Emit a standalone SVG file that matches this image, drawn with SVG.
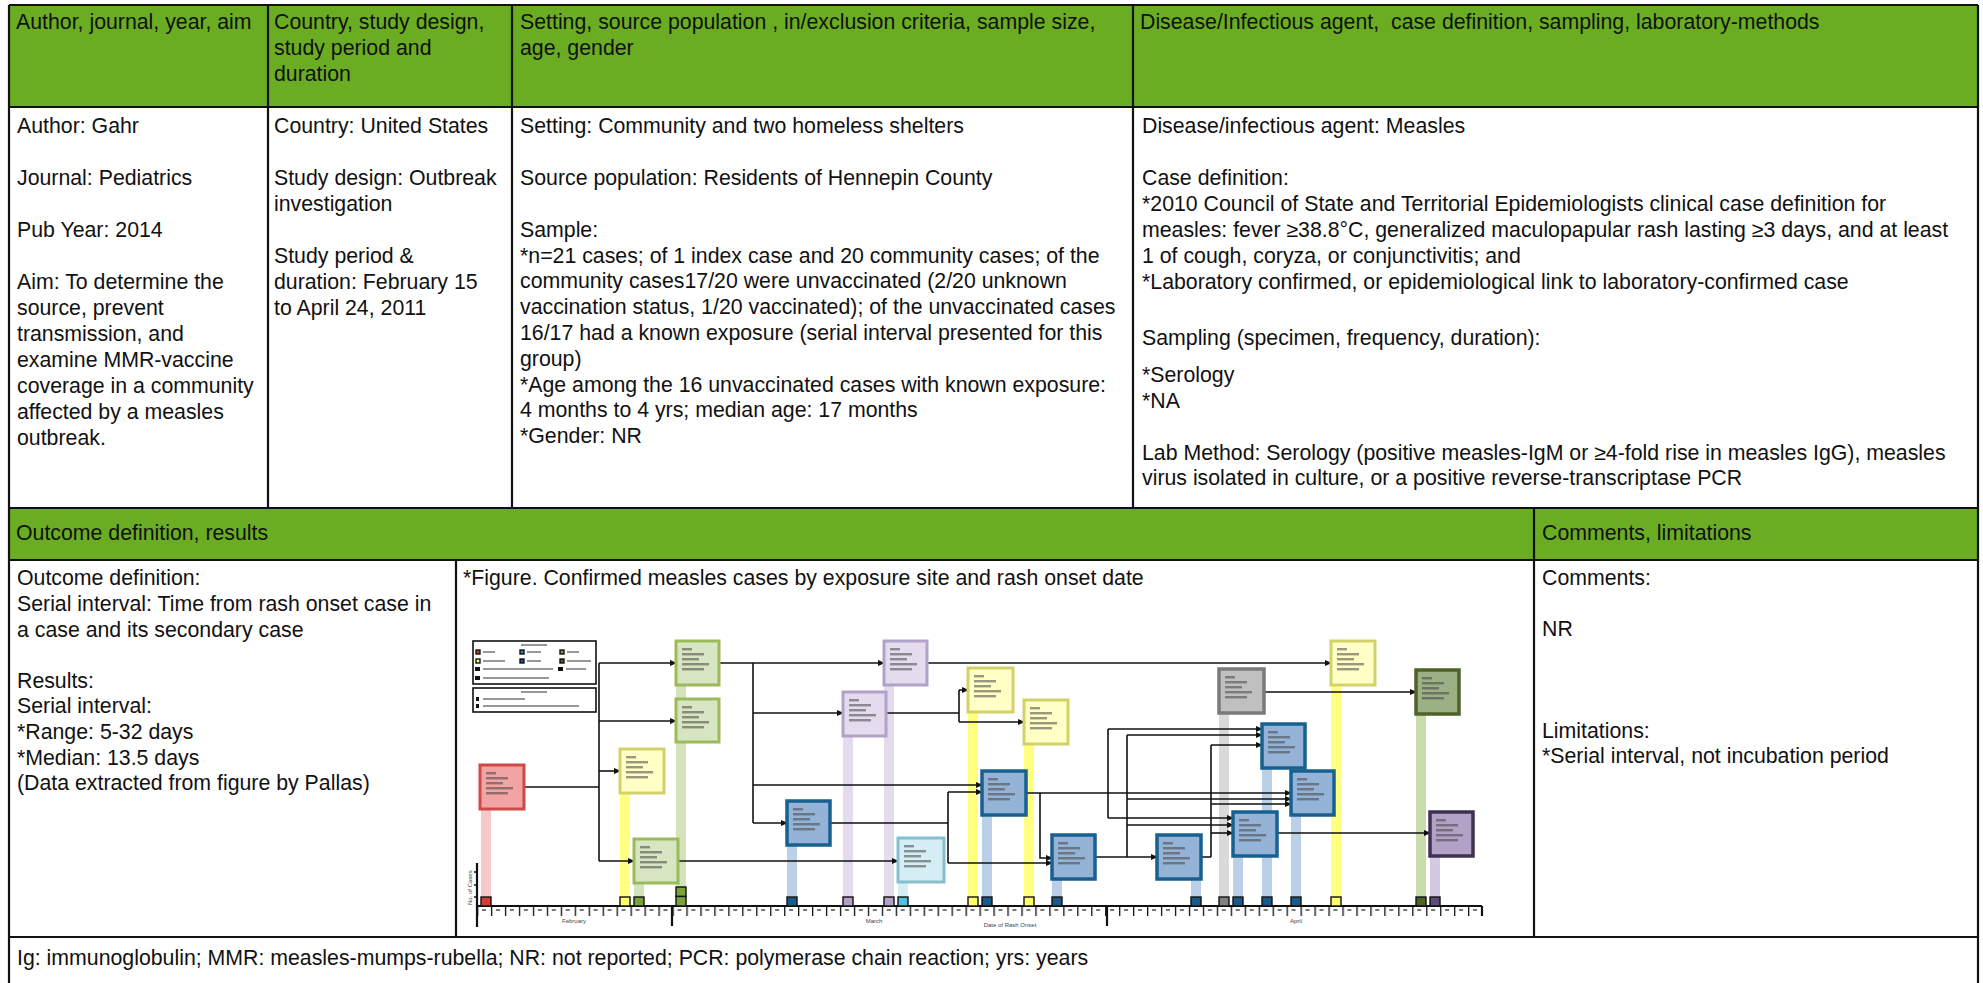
<svg xmlns="http://www.w3.org/2000/svg" xmlns:xlink="http://www.w3.org/1999/xlink" width="1983" height="983" viewBox="0 0 1983 983">
<style>
text{font-family:"Liberation Sans",Arial,sans-serif;font-size:21.3px;fill:#111}
.g{fill:#6aad22}
.tl{stroke:#111;stroke-width:2.2;fill:none}
.cn{stroke:#111;stroke-width:1.6;fill:none}
.ca{stroke:#111;stroke-width:1.6;fill:none;marker-end:url(#ah)}
.sm{fill:#444;opacity:.55}
.sq{stroke:#111;stroke-width:1.4}
.tiny{font-size:6px;fill:#444}
.bGreen{fill:#d8e5c2;stroke:#9bbb59;stroke-width:3}
.bYellow{fill:#ffffc6;stroke:#d3d26a;stroke-width:3}
.bPurple{fill:#e4dcee;stroke:#b3a2c7;stroke-width:3}
.bBlue{fill:#95b3d7;stroke:#17608f;stroke-width:3.5}
.bLBlue{fill:#d5edf4;stroke:#86bfcf;stroke-width:3}
.bRed{fill:#f2a3a3;stroke:#cf4a46;stroke-width:3}
.bGrey{fill:#c0c0c0;stroke:#7a7a7a;stroke-width:3.5}
.bDGreen{fill:#9cb085;stroke:#4f6228;stroke-width:3.5}
.bDPurple{fill:#b3a2c7;stroke:#3f3151;stroke-width:3.5}
</style>
<defs>
<marker id="ah" markerWidth="7" markerHeight="6" refX="6" refY="3" orient="auto" markerUnits="userSpaceOnUse">
<path d="M0,0 L7,3 L0,6 z" fill="#111"/>
</marker>
<symbol id="txt" width="44" height="44" viewBox="0 0 44 44">
<rect class="sm" x="6" y="7" width="10" height="2.4"/>
<rect class="sm" x="6" y="12" width="22" height="2.4"/>
<rect class="sm" x="6" y="17" width="17" height="2.4"/>
<rect class="sm" x="6" y="22" width="27" height="2.4"/>
<rect class="sm" x="6" y="27" width="22" height="2.4"/>
</symbol>
<pattern id="ticks" x="477" y="906" width="13.958" height="12" patternUnits="userSpaceOnUse">
<rect x="0" y="0" width="1.3" height="10" fill="#111"/>
<rect x="5" y="3" width="4" height="2" fill="#777"/>
</pattern>
</defs>

<g id="table-bg">
<rect class="g" x="9" y="5" width="1969" height="102"/>
<rect class="g" x="9" y="508" width="1969" height="52"/>
</g>

<g id="table-lines">
<path class="tl" d="M9,5 H1978 M9,107 H1978 M9,508 H1978 M9,560 H1978 M9,937 H1978"/>
<path class="tl" d="M9,5 V983 M1978,5 V983 M268,5 V508 M512,5 V508 M1133,5 V508 M456,560 V937 M1534,508 V937"/>
</g>

<g id="header-author"><text x="16" y="29">Author, journal, year, aim</text></g>
<g id="header-country"><text x="274" y="29">Country, study design,</text><text x="274" y="55">study period and</text><text x="274" y="81">duration</text></g>
<g id="header-setting"><text x="520" y="29">Setting, source population , in/exclusion criteria, sample size,</text><text x="520" y="55">age, gender</text></g>
<g id="header-disease"><text x="1140" y="29" xml:space="preserve">Disease/Infectious agent,  case definition, sampling, laboratory-methods</text></g>

<g id="cell-author">
<text x="17" y="133">Author: Gahr</text>
<text x="17" y="185">Journal: Pediatrics</text>
<text x="17" y="237">Pub Year: 2014</text>
<text x="17" y="289">Aim: To determine the</text>
<text x="17" y="315">source, prevent</text>
<text x="17" y="341">transmission, and</text>
<text x="17" y="367">examine MMR-vaccine</text>
<text x="17" y="393">coverage in a community</text>
<text x="17" y="419">affected by a measles</text>
<text x="17" y="445">outbreak.</text>
</g>
<g id="cell-country">
<text x="274" y="133">Country: United States</text>
<text x="274" y="185">Study design: Outbreak</text>
<text x="274" y="211">investigation</text>
<text x="274" y="263">Study period &amp;</text>
<text x="274" y="289">duration: February 15</text>
<text x="274" y="315">to April 24, 2011</text>
</g>
<g id="cell-setting">
<text x="520" y="133">Setting: Community and two homeless shelters</text>
<text x="520" y="185">Source population: Residents of Hennepin County</text>
<text x="520" y="237">Sample:</text>
<text x="520" y="263">*n=21 cases; of 1 index case and 20 community cases; of the</text>
<text x="520" y="288">community cases17/20 were unvaccinated (2/20 unknown</text>
<text x="520" y="314">vaccination status, 1/20 vaccinated); of the unvaccinated cases</text>
<text x="520" y="340">16/17 had a known exposure (serial interval presented for this</text>
<text x="520" y="366">group)</text>
<text x="520" y="392">*Age among the 16 unvaccinated cases with known exposure:</text>
<text x="520" y="417">4 months to 4 yrs; median age: 17 months</text>
<text x="520" y="443">*Gender: NR</text>
</g>
<g id="cell-disease">
<text x="1142" y="133">Disease/infectious agent: Measles</text>
<text x="1142" y="185">Case definition:</text>
<text x="1142" y="211">*2010 Council of State and Territorial Epidemiologists clinical case definition for</text>
<text x="1142" y="237">measles: fever ≥38.8°C, generalized maculopapular rash lasting ≥3 days, and at least</text>
<text x="1142" y="263">1 of cough, coryza, or conjunctivitis; and</text>
<text x="1142" y="289">*Laboratory confirmed, or epidemiological link to laboratory-confirmed case</text>
<text x="1142" y="345">Sampling (specimen, frequency, duration):</text>
<text x="1142" y="382">*Serology</text>
<text x="1142" y="408">*NA</text>
<text x="1142" y="460">Lab Method: Serology (positive measles-IgM or ≥4-fold rise in measles IgG), measles</text>
<text x="1142" y="485">virus isolated in culture, or a positive reverse-transcriptase PCR</text>
</g>

<g id="header-outcome"><text x="16" y="540">Outcome definition, results</text></g>
<g id="header-comments"><text x="1542" y="540">Comments, limitations</text></g>

<g id="cell-outcome">
<text x="17" y="585">Outcome definition:</text>
<text x="17" y="611">Serial interval: Time from rash onset case in</text>
<text x="17" y="637">a case and its secondary case</text>
<text x="17" y="688">Results:</text>
<text x="17" y="713">Serial interval:</text>
<text x="17" y="739">*Range: 5-32 days</text>
<text x="17" y="765">*Median: 13.5 days</text>
<text x="17" y="790">(Data extracted from figure by Pallas)</text>
</g>
<g id="cell-comments">
<text x="1542" y="585">Comments:</text>
<text x="1542" y="636">NR</text>
<text x="1542" y="738">Limitations:</text>
<text x="1542" y="763">*Serial interval, not incubation period</text>
</g>
<g id="footer"><text x="17" y="965">Ig: immunoglobulin; MMR: measles-mumps-rubella; NR: not reported; PCR: polymerase chain reaction; yrs: years</text></g>

<g id="figure">
<text x="463" y="585">*Figure. Confirmed measles cases by exposure site and rash onset date</text>

<g id="legend">
<rect x="473" y="641" width="123" height="43" fill="#fff" stroke="#111" stroke-width="1.6"/>
<rect class="sm" x="521" y="644" width="26" height="2"/>
<rect class="sq" x="476" y="650" width="4" height="4" fill="#d63a32"/><rect class="sm" x="483" y="651" width="12" height="2"/>
<rect class="sq" x="520" y="650" width="4" height="4" fill="#31859c"/><rect class="sm" x="527" y="651" width="14" height="2"/>
<rect class="sq" x="560" y="650" width="4" height="4" fill="#77a33a"/><rect class="sm" x="567" y="651" width="12" height="2"/>
<rect class="sq" x="476" y="659" width="4" height="4" fill="#ffff66"/><rect class="sm" x="483" y="660" width="22" height="2"/>
<rect class="sq" x="520" y="659" width="4" height="4" fill="#1a5a8a"/><rect class="sm" x="527" y="660" width="14" height="2"/>
<rect class="sq" x="560" y="659" width="4" height="4" fill="#4f6228"/><rect class="sm" x="567" y="660" width="24" height="2"/>
<rect x="475" y="667" width="5" height="4" fill="#111"/><rect class="sm" x="483" y="668" width="70" height="2"/>
<rect x="558" y="667" width="5" height="4" fill="#111"/><rect class="sm" x="566" y="668" width="20" height="2"/>
<rect x="475" y="676" width="5" height="4" fill="#111"/><rect class="sm" x="483" y="677" width="66" height="2"/>
<rect x="473" y="688" width="123" height="24" fill="#fff" stroke="#111" stroke-width="1.6"/>
<rect class="sm" x="521" y="691" width="26" height="2"/>
<rect x="476" y="697" width="3" height="4" fill="#111"/><rect class="sm" x="483" y="698" width="42" height="2"/>
<rect x="476" y="704" width="3" height="4" fill="#111"/><rect class="sm" x="483" y="705" width="96" height="2"/>
</g>

<g id="bars">
<rect x="481" y="809" width="10" height="88" fill="#f8c8c8"/>
<rect x="620" y="793" width="10" height="104" fill="#ffff80"/>
<rect x="634" y="883" width="10" height="14" fill="#d4e3bc"/>
<rect x="676" y="685" width="10" height="212" fill="#d4e3bc"/>
<rect x="787" y="845" width="10" height="52" fill="#b9d0e8"/>
<rect x="843" y="736" width="10" height="161" fill="#e4dcee"/>
<rect x="884" y="685" width="10" height="212" fill="#e4dcee"/>
<rect x="898" y="882" width="10" height="15" fill="#d5edf4"/>
<rect x="968" y="712" width="10" height="185" fill="#ffff80"/>
<rect x="982" y="815" width="10" height="82" fill="#b9d0e8"/>
<rect x="1024" y="744" width="10" height="153" fill="#ffff80"/>
<rect x="1052" y="879" width="10" height="18" fill="#b9d0e8"/>
<rect x="1191" y="879" width="10" height="18" fill="#b9d0e8"/>
<rect x="1219" y="713" width="10" height="184" fill="#dadada"/>
<rect x="1233" y="856" width="10" height="41" fill="#b9d0e8"/>
<rect x="1262" y="768" width="10" height="129" fill="#b9d0e8"/>
<rect x="1291" y="815" width="10" height="82" fill="#b9d0e8"/>
<rect x="1331" y="685" width="10" height="212" fill="#ffff80"/>
<rect x="1416" y="714" width="10" height="183" fill="#c9dcac"/>
<rect x="1430" y="856" width="10" height="41" fill="#d4c9e2"/>
</g>

<g id="connectors">
<path class="cn" d="M524,787 H599 M599,663 V861"/>
<path class="ca" d="M599,663 H676"/>
<path class="ca" d="M599,721 H676"/>
<path class="ca" d="M599,771 H620"/>
<path class="ca" d="M599,861 H634"/>
<path class="ca" d="M719,663 H884"/>
<path class="cn" d="M753,663 V823"/>
<path class="ca" d="M753,713 H843"/>
<path class="ca" d="M753,785 H982"/>
<path class="ca" d="M753,823 H787"/>
<path class="ca" d="M927,663 H1331"/>
<path class="cn" d="M886,713 H959 M959,690 V722"/>
<path class="ca" d="M959,690 H968"/>
<path class="ca" d="M959,722 H1024"/>
<path class="cn" d="M830,823 H948 M948,792 V863"/>
<path class="ca" d="M948,792 H982"/>
<path class="ca" d="M948,863 H1052"/>
<path class="ca" d="M678,861 H898"/>
<path class="ca" d="M1026,793 H1291"/>
<path class="ca" d="M1040,793 V858 H1052"/>
<path class="ca" d="M1095,857 H1157"/>
<path class="cn" d="M1127,735 V857"/>
<path class="ca" d="M1127,735 H1262"/>
<path class="ca" d="M1127,799 H1291"/>
<path class="ca" d="M1127,825 H1233"/>
<path class="cn" d="M1108,729 V818"/>
<path class="ca" d="M1108,729 H1262"/>
<path class="ca" d="M1108,818 H1233"/>
<path class="cn" d="M1201,857 H1211 M1211,745 V857"/>
<path class="ca" d="M1211,745 H1262"/>
<path class="ca" d="M1211,804 H1291"/>
<path class="ca" d="M1211,833 H1233"/>
<path class="ca" d="M1277,833 H1430"/>
<path class="ca" d="M1264,692 H1416"/>
</g>

<g id="case-index"><rect class="bRed" x="480" y="765" width="44" height="44"/><use href="#txt" x="480" y="765" width="44" height="44"/></g>
<g id="case-2"><rect class="bGreen" x="676" y="641" width="43" height="44"/><use href="#txt" x="676" y="641" width="44" height="44"/></g>
<g id="case-3"><rect class="bGreen" x="676" y="699" width="43" height="43"/><use href="#txt" x="676" y="699" width="44" height="44"/></g>
<g id="case-4"><rect class="bYellow" x="620" y="749" width="44" height="44"/><use href="#txt" x="620" y="749" width="44" height="44"/></g>
<g id="case-5"><rect class="bGreen" x="634" y="839" width="44" height="44"/><use href="#txt" x="634" y="839" width="44" height="44"/></g>
<g id="case-6"><rect class="bPurple" x="843" y="692" width="43" height="44"/><use href="#txt" x="843" y="692" width="44" height="44"/></g>
<g id="case-7"><rect class="bBlue" x="787" y="801" width="43" height="44"/><use href="#txt" x="787" y="801" width="44" height="44"/></g>
<g id="case-8"><rect class="bPurple" x="884" y="641" width="43" height="44"/><use href="#txt" x="884" y="641" width="44" height="44"/></g>
<g id="case-9"><rect class="bLBlue" x="898" y="838" width="46" height="44"/><use href="#txt" x="898" y="838" width="44" height="44"/></g>
<g id="case-10"><rect class="bYellow" x="968" y="668" width="45" height="44"/><use href="#txt" x="968" y="668" width="44" height="44"/></g>
<g id="case-11"><rect class="bBlue" x="982" y="771" width="44" height="44"/><use href="#txt" x="982" y="771" width="44" height="44"/></g>
<g id="case-12"><rect class="bYellow" x="1024" y="700" width="44" height="44"/><use href="#txt" x="1024" y="700" width="44" height="44"/></g>
<g id="case-13"><rect class="bBlue" x="1052" y="835" width="43" height="44"/><use href="#txt" x="1052" y="835" width="44" height="44"/></g>
<g id="case-14"><rect class="bBlue" x="1157" y="835" width="44" height="44"/><use href="#txt" x="1157" y="835" width="44" height="44"/></g>
<g id="case-15"><rect class="bGrey" x="1219" y="669" width="45" height="44"/><use href="#txt" x="1219" y="669" width="44" height="44"/></g>
<g id="case-16"><rect class="bBlue" x="1262" y="724" width="43" height="44"/><use href="#txt" x="1262" y="724" width="44" height="44"/></g>
<g id="case-17"><rect class="bBlue" x="1291" y="771" width="43" height="44"/><use href="#txt" x="1291" y="771" width="44" height="44"/></g>
<g id="case-18"><rect class="bBlue" x="1233" y="812" width="44" height="44"/><use href="#txt" x="1233" y="812" width="44" height="44"/></g>
<g id="case-19"><rect class="bYellow" x="1331" y="641" width="44" height="44"/><use href="#txt" x="1331" y="641" width="44" height="44"/></g>
<g id="case-20"><rect class="bDGreen" x="1416" y="670" width="43" height="44"/><use href="#txt" x="1416" y="670" width="44" height="44"/></g>
<g id="case-21"><rect class="bDPurple" x="1430" y="812" width="43" height="44"/><use href="#txt" x="1430" y="812" width="44" height="44"/></g>

<g id="axis">
<rect x="477" y="906" width="1005" height="10" fill="url(#ticks)"/>
<path class="tl" stroke-width="1.8" d="M477,906 H1482 M1482,906 V916 M477,863 V927 M672,906 V926 M1107,906 V926"/>
<path class="cn" stroke-width="1" d="M474,872 H477 M474,885 H477 M474,897 H477"/>
<text class="tiny" transform="translate(472,905) rotate(-90)">No. of Cases</text>
<text class="tiny" x="574" y="923" text-anchor="middle">February</text>
<text class="tiny" x="874" y="923" text-anchor="middle">March</text>
<text class="tiny" x="1296" y="923" text-anchor="middle">April</text>
<text class="tiny" x="1010" y="927" text-anchor="middle">Date of Rash Onset</text>
<rect class="sq" x="481" y="897" width="10" height="9" fill="#d63a32"/>
<rect class="sq" x="620" y="897" width="10" height="9" fill="#ffff66"/>
<rect class="sq" x="634" y="897" width="10" height="9" fill="#77a33a"/>
<rect class="sq" x="676" y="887" width="10" height="9.5" fill="#77a33a"/>
<rect class="sq" x="676" y="896.5" width="10" height="9.5" fill="#77a33a"/>
<rect class="sq" x="787" y="897" width="10" height="9" fill="#1a5a8a"/>
<rect class="sq" x="843" y="897" width="10" height="9" fill="#b3a2c7"/>
<rect class="sq" x="884" y="897" width="10" height="9" fill="#b3a2c7"/>
<rect class="sq" x="898" y="897" width="10" height="9" fill="#4fc3dc"/>
<rect class="sq" x="968" y="897" width="10" height="9" fill="#ffff66"/>
<rect class="sq" x="982" y="897" width="10" height="9" fill="#1a5a8a"/>
<rect class="sq" x="1024" y="897" width="10" height="9" fill="#ffff66"/>
<rect class="sq" x="1052" y="897" width="10" height="9" fill="#1a5a8a"/>
<rect class="sq" x="1191" y="897" width="10" height="9" fill="#1a5a8a"/>
<rect class="sq" x="1219" y="897" width="10" height="9" fill="#7f7f7f"/>
<rect class="sq" x="1233" y="897" width="10" height="9" fill="#1a5a8a"/>
<rect class="sq" x="1262" y="897" width="10" height="9" fill="#1a5a8a"/>
<rect class="sq" x="1291" y="897" width="10" height="9" fill="#1a5a8a"/>
<rect class="sq" x="1331" y="897" width="10" height="9" fill="#ffff66"/>
<rect class="sq" x="1416" y="897" width="10" height="9" fill="#4f6228"/>
<rect class="sq" x="1430" y="897" width="10" height="9" fill="#604a7b"/>
</g>
</g>
</svg>
